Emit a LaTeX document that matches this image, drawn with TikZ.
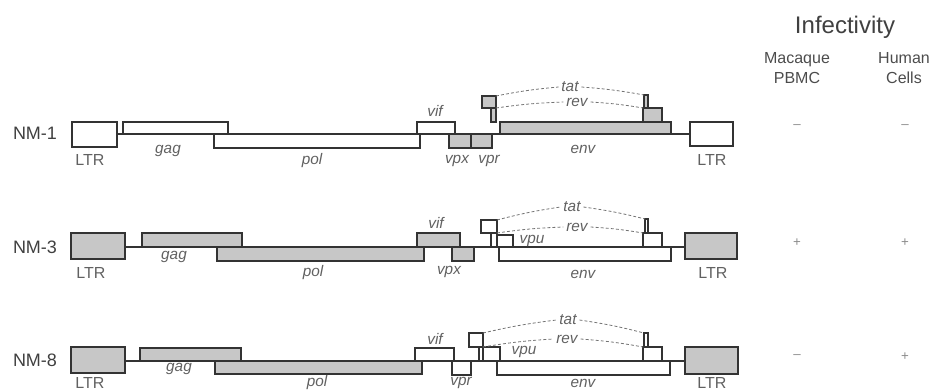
\documentclass[tikz,border=0pt]{standalone}
\usepackage{fontspec}
\setmainfont{Liberation Sans}
\usetikzlibrary{positioning}
\colorlet{linec}{black!80}
\colorlet{boxg}{black!22}
\colorlet{txtc}{black!62}
% one gene box, by its pixel corners: name, x1, y1, x2, y2, fill
\newcommand{\gbox}[6]{%
  \node[gene,fill=#6,minimum width={(#4-#2)*0.75pt},minimum height={(#5-#3)*0.75pt}] (#1) at (#2,#3) {};}

\begin{document}
\begin{tikzpicture}[x=0.75pt,y=-0.75pt,
  gene/.style={draw=linec, line width=1.1pt, inner sep=0pt, outer sep=0pt, anchor=north west},
  spine/.style={draw=linec, line width=1.1pt},
  glab/.style={font=\fontsize{11.5}{13}\selectfont\itshape, text=txtc, inner sep=0pt},
  ltrlab/.style={font=\fontsize{12}{13}\selectfont, text=txtc, inner sep=0pt},
  exlab/.style={font=\fontsize{11.5}{13}\selectfont\itshape, text=txtc, inner sep=2pt},
  rowlab/.style={font=\fontsize{13.5}{15}\selectfont, text=black!75, inner sep=0pt},
  hdr/.style={font=\fontsize{18}{20}\selectfont, text=black!75, inner sep=0pt},
  colhdr/.style={font=\fontsize{12}{14.5}\selectfont, text=black!70, align=center, inner sep=0pt},
  res/.style={font=\fontsize{10}{12}\selectfont, text=black!45, inner sep=0pt},
  link/.style={draw=black!55, line width=0.6pt, dash pattern=on 2.2pt off 1.6pt}]
  \useasboundingbox (0,0) rectangle (931,392);

  % NM-1
  \coordinate (y1) at (0,134);
  \gbox{ltr1L}{72}{122}{117}{147}{white}
  \gbox{gag1}{123}{122}{228}{134}{white}
  \gbox{pol1}{214}{134}{420}{148}{white}
  \gbox{vif1}{417}{122}{455}{134}{white}
  \gbox{vpx1}{449}{134}{471}{148}{boxg}
  \gbox{vpr1}{471}{134}{492}{148}{boxg}
  \gbox{tat1a}{482}{96}{496}{108}{boxg}
  \gbox{rev1a}{491}{108}{496}{122}{boxg}
  \gbox{env1}{500}{122}{671}{134}{boxg}
  \gbox{tat1b}{644}{95}{648}{108}{boxg}
  \gbox{rev1b}{643}{108}{662}{122}{boxg}
  \gbox{ltr1R}{690}{122}{733}{146}{white}
  \draw[spine] (ltr1L.east |- y1) -- (ltr1R.west |- y1);
  \node[rowlab] (nm1) at (35,133) {NM-1};
  \node[ltrlab] (ltr1Lt) at (90,160) {LTR};
  \node[glab] (gag1t) at (168,151) {gag};
  \node[glab] (pol1t) at (312,161) {pol};
  \node[glab] (vif1t) at (435,111) {vif};
  \node[glab] (vpx1t) at (457,161) {vpx};
  \node[glab] (vpr1t) at (489,161) {vpr};
  \node[glab] (env1t) at (583,149) {env};
  \node[ltrlab] (ltr1Rt) at (712,160) {LTR};
  \node[exlab] (tat1) at (570,87) {tat};
  \node[exlab] (rev1) at (577,102) {rev};
  \draw[link] (tat1a.north east) to[bend left=3] (tat1.west);
  \draw[link] (tat1.east) to[bend left=3] (tat1b.north west);
  \draw[link] (rev1a.north east) to[bend left=3] (rev1.west);
  \draw[link] (rev1.east) to[bend left=3] (rev1b.north west);

  % NM-3
  \coordinate (y3) at (0,247);
  \gbox{ltr3L}{71}{233}{125}{259}{boxg}
  \gbox{gag3}{142}{233}{242}{247}{boxg}
  \gbox{pol3}{217}{247}{424}{261}{boxg}
  \gbox{vif3}{417}{233}{460}{247}{boxg}
  \gbox{vpx3}{452}{247}{474}{261}{boxg}
  \gbox{tat3a}{481}{220}{497}{233}{white}
  \gbox{rev3a}{491}{233}{497}{247}{white}
  \gbox{vpu3}{497}{235}{513}{247}{white}
  \gbox{env3}{499}{247}{671}{261}{white}
  \gbox{tat3b}{645}{219}{648}{233}{white}
  \gbox{rev3b}{643}{233}{662}{247}{white}
  \gbox{ltr3R}{685}{233}{737}{259}{boxg}
  \draw[spine] (ltr3L.east |- y3) -- (ltr3R.west |- y3);
  \node[rowlab] (nm3) at (35,247) {NM-3};
  \node[ltrlab] (ltr3Lt) at (91,273) {LTR};
  \node[glab] (gag3t) at (174,257) {gag};
  \node[glab] (pol3t) at (313,273) {pol};
  \node[glab] (vif3t) at (436,223) {vif};
  \node[glab] (vpx3t) at (449,272) {vpx};
  \node[glab] (vpu3t) at (532,241) {vpu};
  \node[glab] (env3t) at (583,274) {env};
  \node[ltrlab] (ltr3Rt) at (713,273) {LTR};
  \node[exlab] (tat3) at (572,207) {tat};
  \node[exlab] (rev3) at (577,227) {rev};
  \draw[link] (tat3a.north east) to[bend left=3] (tat3.west);
  \draw[link] (tat3.east) to[bend left=3] (tat3b.north west);
  \draw[link] (rev3a.north east) to[bend left=3] (rev3.west);
  \draw[link] (rev3.east) to[bend left=3] (rev3b.north west);

  % NM-8
  \coordinate (y8) at (0,361);
  \gbox{ltr8L}{71}{347}{125}{373}{boxg}
  \gbox{gag8}{140}{348}{241}{361}{boxg}
  \gbox{pol8}{215}{361}{422}{374}{boxg}
  \gbox{vif8}{415}{348}{454}{361}{white}
  \gbox{vpr8}{452}{361}{471}{375}{white}
  \gbox{tat8a}{469}{333}{483}{347}{white}
  \gbox{rev8a}{479}{347}{483}{361}{white}
  \gbox{vpu8}{483}{347}{500}{361}{white}
  \gbox{env8}{497}{361}{670}{375}{white}
  \gbox{tat8b}{644}{333}{648}{347}{white}
  \gbox{rev8b}{643}{347}{662}{361}{white}
  \gbox{ltr8R}{685}{347}{738}{374}{boxg}
  \draw[spine] (ltr8L.east |- y8) -- (ltr8R.west |- y8);
  \node[rowlab] (nm8) at (35,360) {NM-8};
  \node[ltrlab] (ltr8Lt) at (90,383) {LTR};
  \node[glab] (gag8t) at (179,369) {gag};
  \node[glab] (pol8t) at (317,383) {pol};
  \node[glab] (vif8t) at (435,339) {vif};
  \node[glab] (vpr8t) at (461,383) {vpr};
  \node[glab] (vpu8t) at (524,352) {vpu};
  \node[glab] (env8t) at (583,383) {env};
  \node[ltrlab] (ltr8Rt) at (712,383) {LTR};
  \node[exlab] (tat8) at (568,320) {tat};
  \node[exlab] (rev8) at (567,339) {rev};
  \draw[link] (tat8a.north east) to[bend left=3] (tat8.west);
  \draw[link] (tat8.east) to[bend left=3] (tat8b.north west);
  \draw[link] (rev8a.north east) to[bend left=3] (rev8.west);
  \draw[link] (rev8.east) to[bend left=3] (rev8b.north west);

  % infectivity table
  \node[hdr] (inf) at (845,27) {Infectivity};
  \node[colhdr] (mac) at (797,68) {Macaque\\PBMC};
  \node[colhdr] (hum) at (904,68) {Human\\Cells};
  \node[res] (m1) at (797,127) {–};
  \node[res] (h1) at (905,127) {–};
  \node[res] (m3) at (797,243) {+};
  \node[res] (h3) at (905,243) {+};
  \node[res] (m8) at (797,357) {–};
  \node[res] (h8) at (905,357) {+};
\end{tikzpicture}
\end{document}
